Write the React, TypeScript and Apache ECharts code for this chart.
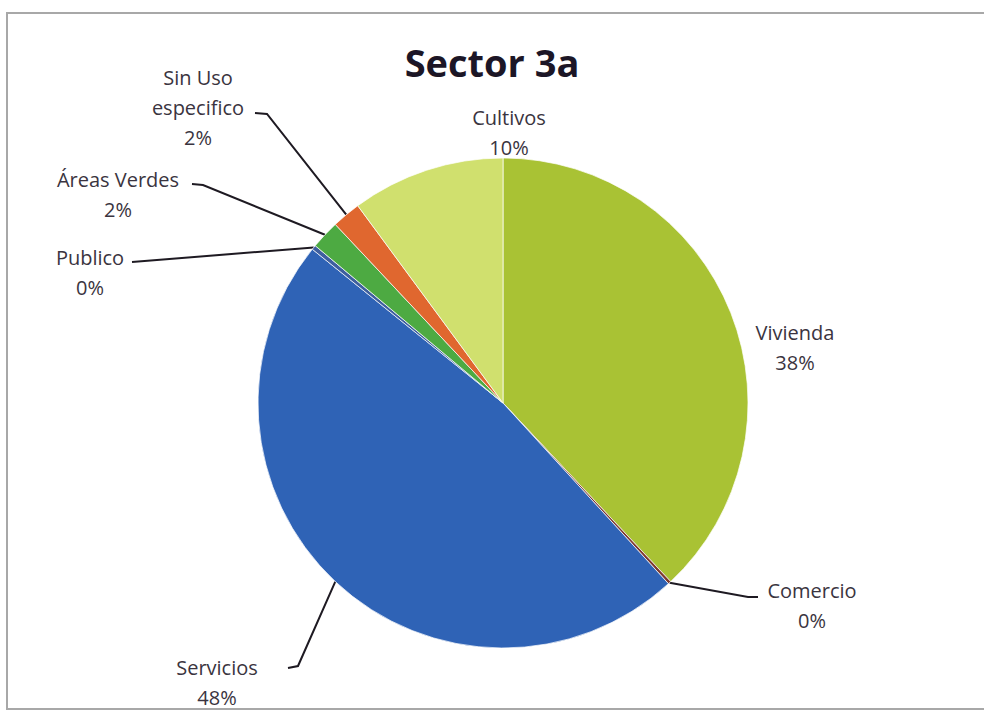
import React, { useEffect, useRef } from "react";
import * as echarts from "echarts";

const TITLE = "Sector 3a";
const categories = [
  "Vivienda",
  "Comercio",
  "Servicios",
  "Publico",
  "Áreas Verdes",
  "Sin Uso\nespecifico",
  "Cultivos",
];
const values = [38.0, 0.2, 47.6, 0.3, 1.9, 1.9, 10.1];
const colors = ["#A9C234", "#7E3A2E", "#2F63B6", "#3E5F9F", "#4DAA42", "#E0672F", "#D0E06E"];

// label block centers and leader-line bends (layout only)
const labelPos: Record<number, { x: number; y: number; line?: number[][] }> = {
  0: { x: 795, y: 347 },
  1: { x: 812, y: 605, line: [[748, 597], [758, 597]] },
  2: { x: 217, y: 682, line: [[298, 666], [288, 668]] },
  3: { x: 90, y: 272, line: [[132, 262]] },
  4: { x: 118, y: 194, line: [[203, 185], [192, 184]] },
  5: { x: 198, y: 107, line: [[267, 114], [255, 113]] },
  6: { x: 509, y: 132 },
};

export default function App() {
  const ref = useRef<HTMLDivElement>(null);
  useEffect(() => {
    if (!ref.current) return;
    const chart = echarts.init(ref.current, null, { renderer: "svg" });
    chart.setOption({
      animation: false,
      backgroundColor: "#ffffff",
      title: {
        text: TITLE,
        left: "center",
        top: 38,
        textStyle: {
          fontFamily: "Open Sans",
          fontWeight: "bold",
          fontSize: 38,
          color: "#1c1626",
        },
      },
      graphic: [
        {
          type: "rect",
          shape: { x: 7, y: 13, width: 990, height: 696 },
          style: { fill: "none", stroke: "#a8a8a8", lineWidth: 2 },
          silent: true,
        },
      ],
      series: [
        {
          type: "pie",
          center: [503, 403],
          radius: 245,
          startAngle: 90,
          clockwise: true,
          avoidLabelOverlap: false,
          itemStyle: { borderColor: "rgba(255,255,255,0.7)", borderWidth: 1 },
          label: {
            show: true,
            position: "outside",
            fontFamily: "Open Sans",
            fontSize: 20,
            lineHeight: 30,
            color: "#3a3440",
            align: "center",
            formatter: (p: any) => `${p.name}\n${Math.round(p.percent)}%`,
          },
          labelLine: {
            show: true,
            lineStyle: { color: "#1e1a22", width: 2 },
            length: 20,
            length2: 10,
          },
          labelLayout: (params: any) => {
            const pos = labelPos[params.dataIndex];
            const res: any = {
              x: pos.x,
              y: pos.y,
              align: "center",
              verticalAlign: "middle",
              hideOverlap: false,
            };
            if (pos.line && params.labelLinePoints && params.labelLinePoints[0]) {
              res.labelLinePoints = [params.labelLinePoints[0], ...pos.line];
            }
            return res;
          },
          data: categories.map((name, i) => ({
            name,
            value: values[i],
            itemStyle: { color: colors[i] },
            labelLine: { show: !!labelPos[i].line },
          })),
        },
      ],
    });
    return () => chart.dispose();
  }, []);
  return (
    <div
      ref={ref}
      style={{ position: "fixed", left: 0, top: 0, width: 984, height: 713 }}
    />
  );
}
